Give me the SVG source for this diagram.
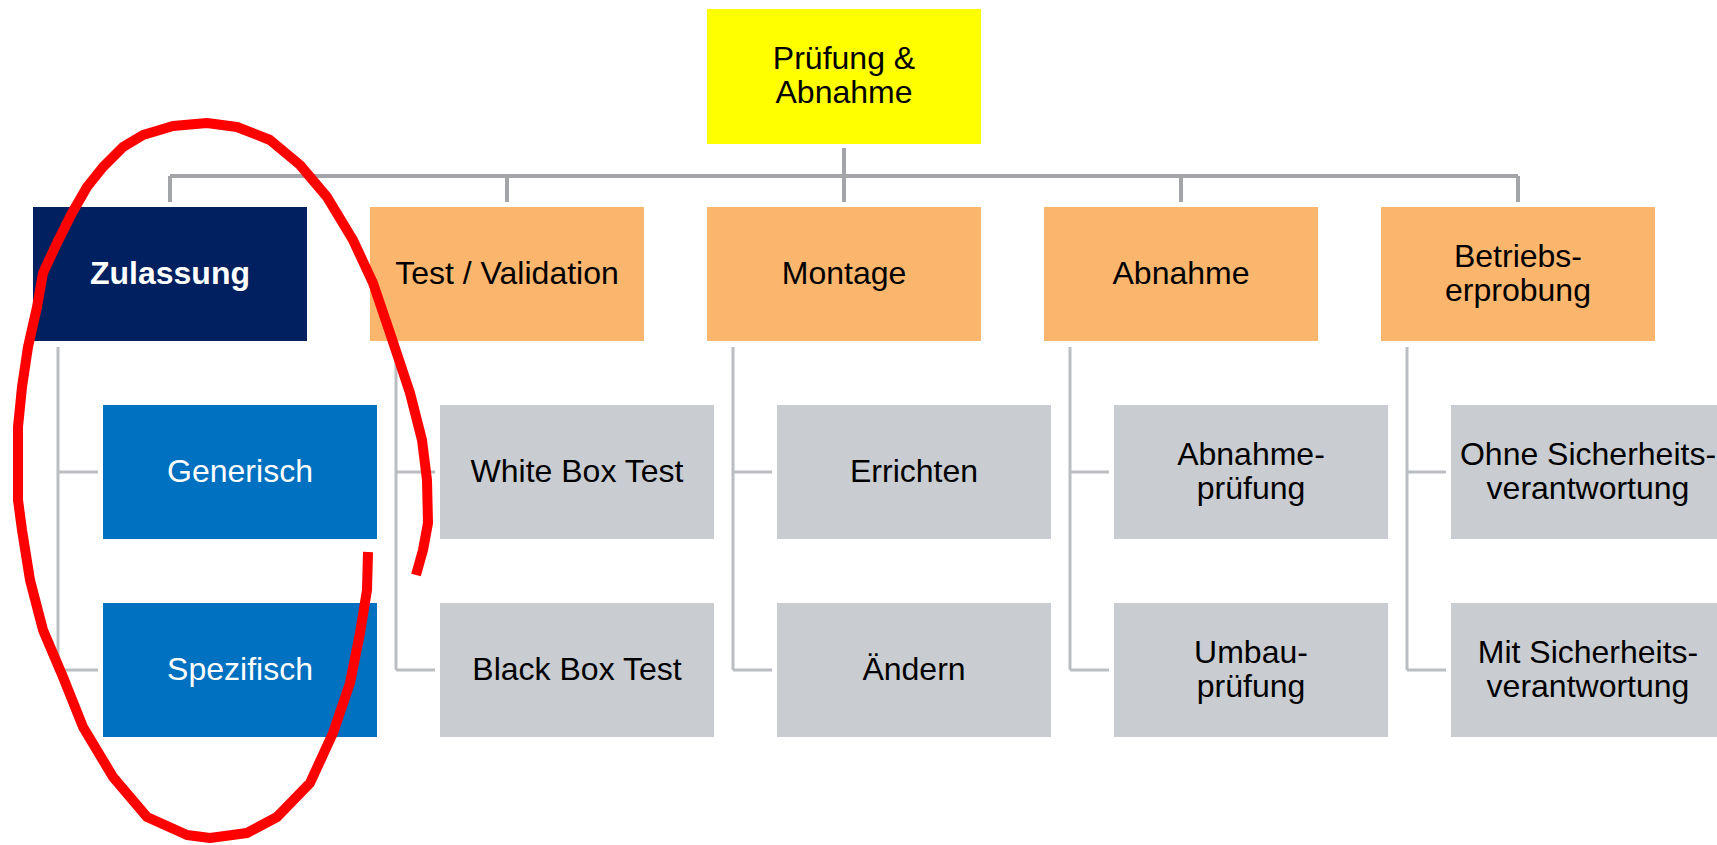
<svg xmlns="http://www.w3.org/2000/svg" width="1717" height="845" viewBox="0 0 1717 845">
  <style>
    .box text { font-family: "Liberation Sans", Arial, sans-serif; font-size: 32px; text-anchor: middle; }
    .dark text { fill: #ffffff; }
    .light text { fill: #000000; }
    .root rect { fill: #ffff00; }
    .cat rect { fill: #fbb66d; }
    .sel rect { fill: #002060; }
    .blue rect { fill: #0070c0; }
    .leaf rect { fill: #c9cdd1; }
    .trunk { stroke: #a2a4a8; stroke-width: 4; fill: none; }
    .branch { stroke: #babdc1; stroke-width: 3; fill: none; }
    .mark { stroke: #ff0000; stroke-width: 10; fill: none; stroke-linejoin: round; stroke-linecap: butt; }
  </style>

  <!-- connectors -->
  <g id="connectors">
    <path class="trunk" d="M844,148 V176 M170,176 H1518 M170,176 V202 M507,176 V202 M844,176 V202 M1181,176 V202 M1518,176 V202"/>
    <path class="branch" d="M58,347 V670 M58,472 H98 M58,670 H98"/>
    <path class="branch" d="M396,347 V670 M396,472 H435 M396,670 H435"/>
    <path class="branch" d="M733,347 V670 M733,472 H772 M733,670 H772"/>
    <path class="branch" d="M1070,347 V670 M1070,472 H1109 M1070,670 H1109"/>
    <path class="branch" d="M1407,347 V670 M1407,472 H1446 M1407,670 H1446"/>
  </g>

  <!-- root -->
  <g id="pruefung-abnahme" class="box root light">
    <rect x="707" y="9" width="274" height="135"/>
    <text x="844" y="69">Prüfung &amp;</text>
    <text x="844" y="103">Abnahme</text>
  </g>

  <!-- categories -->
  <g id="zulassung" class="box sel dark">
    <rect x="33" y="207" width="274" height="134"/>
    <text x="170" y="284" font-weight="bold">Zulassung</text>
  </g>
  <g id="test-validation" class="box cat light">
    <rect x="370" y="207" width="274" height="134"/>
    <text x="507" y="284">Test / Validation</text>
  </g>
  <g id="montage" class="box cat light">
    <rect x="707" y="207" width="274" height="134"/>
    <text x="844" y="284">Montage</text>
  </g>
  <g id="abnahme" class="box cat light">
    <rect x="1044" y="207" width="274" height="134"/>
    <text x="1181" y="284">Abnahme</text>
  </g>
  <g id="betriebserprobung" class="box cat light">
    <rect x="1381" y="207" width="274" height="134"/>
    <text x="1518" y="267">Betriebs-</text>
    <text x="1518" y="301">erprobung</text>
  </g>

  <!-- leaves -->
  <g id="generisch" class="box blue dark">
    <rect x="103" y="405" width="274" height="134"/>
    <text x="240" y="482">Generisch</text>
  </g>
  <g id="spezifisch" class="box blue dark">
    <rect x="103" y="603" width="274" height="134"/>
    <text x="240" y="680">Spezifisch</text>
  </g>
  <g id="white-box-test" class="box leaf light">
    <rect x="440" y="405" width="274" height="134"/>
    <text x="577" y="482">White Box Test</text>
  </g>
  <g id="black-box-test" class="box leaf light">
    <rect x="440" y="603" width="274" height="134"/>
    <text x="577" y="680">Black Box Test</text>
  </g>
  <g id="errichten" class="box leaf light">
    <rect x="777" y="405" width="274" height="134"/>
    <text x="914" y="482">Errichten</text>
  </g>
  <g id="aendern" class="box leaf light">
    <rect x="777" y="603" width="274" height="134"/>
    <text x="914" y="680">Ändern</text>
  </g>
  <g id="abnahmepruefung" class="box leaf light">
    <rect x="1114" y="405" width="274" height="134"/>
    <text x="1251" y="465">Abnahme-</text>
    <text x="1251" y="499">prüfung</text>
  </g>
  <g id="umbaupruefung" class="box leaf light">
    <rect x="1114" y="603" width="274" height="134"/>
    <text x="1251" y="663">Umbau-</text>
    <text x="1251" y="697">prüfung</text>
  </g>
  <g id="ohne-sicherheitsverantwortung" class="box leaf light">
    <rect x="1451" y="405" width="274" height="134"/>
    <text x="1588" y="465">Ohne Sicherheits-</text>
    <text x="1588" y="499">verantwortung</text>
  </g>
  <g id="mit-sicherheitsverantwortung" class="box leaf light">
    <rect x="1451" y="603" width="274" height="134"/>
    <text x="1588" y="663">Mit Sicherheits-</text>
    <text x="1588" y="697">verantwortung</text>
  </g>

  <!-- hand-drawn highlight loop -->
  <polyline class="mark" points="416,575 423,550 428,523 427,480 422,440 410,393 390,333 373,283 353,240 327,197 300,165 270,140 237,127 207,123 173,126 143,135 123,147 103,167 87,187 72,213 57,243 43,273 37,307 28,347 22,387 18,427 18,500 22,530 30,580 43,630 63,677 83,727 113,777 147,817 187,835 210,838 247,833 277,817 310,783 333,733 350,683 360,633 367,590 368,552"/>
</svg>
